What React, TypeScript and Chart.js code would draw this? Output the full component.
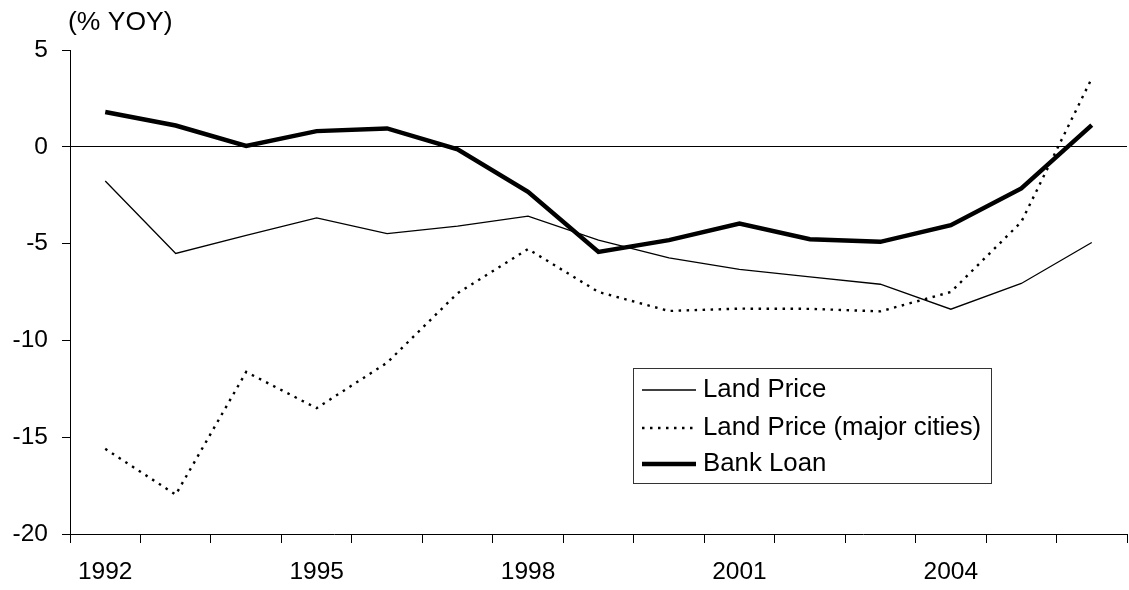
import React, { useEffect, useRef } from 'react';
import { Chart, registerables } from 'chart.js';

Chart.register(...registerables);

const years = ['1992', '1993', '1994', '1995', '1996', '1997', '1998', '1999', '2000', '2001', '2002', '2003', '2004', '2005', '2006'];
const landPrice = [-1.77, -5.51, -4.57, -3.67, -4.48, -4.1, -3.58, -4.82, -5.74, -6.33, -6.72, -7.1, -8.39, -7.06, -4.94];
const landPriceMajor = [-15.6, -17.97, -11.63, -13.5, -11.15, -7.56, -5.28, -7.5, -8.48, -8.36, -8.37, -8.5, -7.5, -3.88, 3.54];
const bankLoan = [1.8, 1.1, 0.05, 0.81, 0.95, -0.13, -2.33, -5.43, -4.82, -3.96, -4.77, -4.91, -4.05, -2.15, 1.12];
const seriesNames = ['Land Price', 'Land Price (major cities)', 'Bank Loan'];
const yMin = -20;
const yMax = 5;
const yStep = 5;
const yUnitLabel = '(% YOY)';
const labelEvery = 3;

const FONT = "'Liberation Sans', Arial, Helvetica, sans-serif";

const annotationPlugin = {
  id: 'customDecor',
  afterDraw(chart: any) {
    const ctx = chart.ctx;
    ctx.save();
    // unit label
    ctx.fillStyle = '#000';
    ctx.font = `26.5px ${FONT}`;
    ctx.textAlign = 'left';
    ctx.textBaseline = 'alphabetic';
    ctx.fillText(yUnitLabel, 68, 30);

    // legend box
    const bx = 633.5, by = 368.5, bw = 358, bh = 115;
    ctx.fillStyle = '#fff';
    ctx.fillRect(bx, by, bw, bh);
    ctx.strokeStyle = '#333';
    ctx.lineWidth = 1;
    ctx.strokeRect(bx, by, bw, bh);
    const rows = [390, 428, 464];
    chart.data.datasets.forEach((ds: any, i: number) => {
      const y = rows[i];
      ctx.beginPath();
      ctx.strokeStyle = ds.borderColor;
      ctx.lineWidth = ds.borderWidth;
      ctx.setLineDash(ds.borderDash || []);
      ctx.lineCap = 'butt';
      ctx.moveTo(642, y);
      ctx.lineTo(696, y);
      ctx.stroke();
      ctx.setLineDash([]);
      ctx.fillStyle = '#000';
      ctx.font = `25.8px ${FONT}`;
      ctx.textBaseline = 'middle';
      ctx.fillText(ds.label, 703, y);
    });
    ctx.restore();
  },
};

export default function App() {
  const canvasRef = useRef<HTMLCanvasElement | null>(null);

  useEffect(() => {
    if (!canvasRef.current) return;
    Chart.defaults.font.family = FONT;
    Chart.defaults.color = '#000';
    const chart = new Chart(canvasRef.current, {
      type: 'line',
      data: {
        labels: years,
        datasets: [
          {
            label: seriesNames[0],
            data: landPrice,
            borderColor: '#000',
            borderWidth: 1.3,
            pointRadius: 0,
            tension: 0,
            fill: false,
          },
          {
            label: seriesNames[1],
            data: landPriceMajor,
            borderColor: '#000',
            borderWidth: 2.4,
            borderDash: [2.5, 5.5],
            pointRadius: 0,
            tension: 0,
            fill: false,
          },
          {
            label: seriesNames[2],
            data: bankLoan,
            borderColor: '#000',
            borderWidth: 4.5,
            pointRadius: 0,
            tension: 0,
            fill: false,
          },
        ],
      },
      options: {
        animation: false,
        responsive: false,
        maintainAspectRatio: false,
        layout: { padding: { top: 50, right: 2, left: 0, bottom: 0 } },
        plugins: {
          legend: { display: false },
          title: { display: false },
          tooltip: { enabled: false },
        },
        scales: {
          x: {
            type: 'category',
            offset: true,
            grid: {
              offset: true,
              drawOnChartArea: false,
              drawTicks: true,
              tickLength: 9,
              tickColor: '#000',
              color: '#000',
            },
            border: { display: true, color: '#000', width: 1 },
            ticks: {
              autoSkip: false,
              maxRotation: 0,
              minRotation: 0,
              padding: 15,
              font: { size: 24.5, family: FONT },
              color: '#000',
              callback: (_v: any, i: number) => (i % labelEvery === 0 ? years[i] : ''),
            },
            afterFit: (scale: any) => {
              scale.height = 56;
            },
          },
          y: {
            min: yMin,
            max: yMax,
            grid: {
              drawOnChartArea: true,
              drawTicks: true,
              tickLength: 8,
              tickColor: '#000',
              color: (c: any) => (c.tick && c.tick.value === 0 ? '#000' : 'rgba(0,0,0,0)'),
              lineWidth: 1,
            },
            border: { display: true, color: '#000', width: 1 },
            ticks: {
              stepSize: yStep,
              padding: 14,
              font: { size: 24.5, family: FONT },
              color: '#000',
            },
            afterFit: (scale: any) => {
              scale.width = 70;
            },
          },
        },
      },
      plugins: [annotationPlugin],
    });
    return () => chart.destroy();
  }, []);

  return (
    <div style={{ position: 'absolute', left: 0, top: 0, width: 1129, height: 590, background: '#fff' }}>
      <canvas ref={canvasRef} width={1129} height={590} style={{ display: 'block' }} />
    </div>
  );
}
